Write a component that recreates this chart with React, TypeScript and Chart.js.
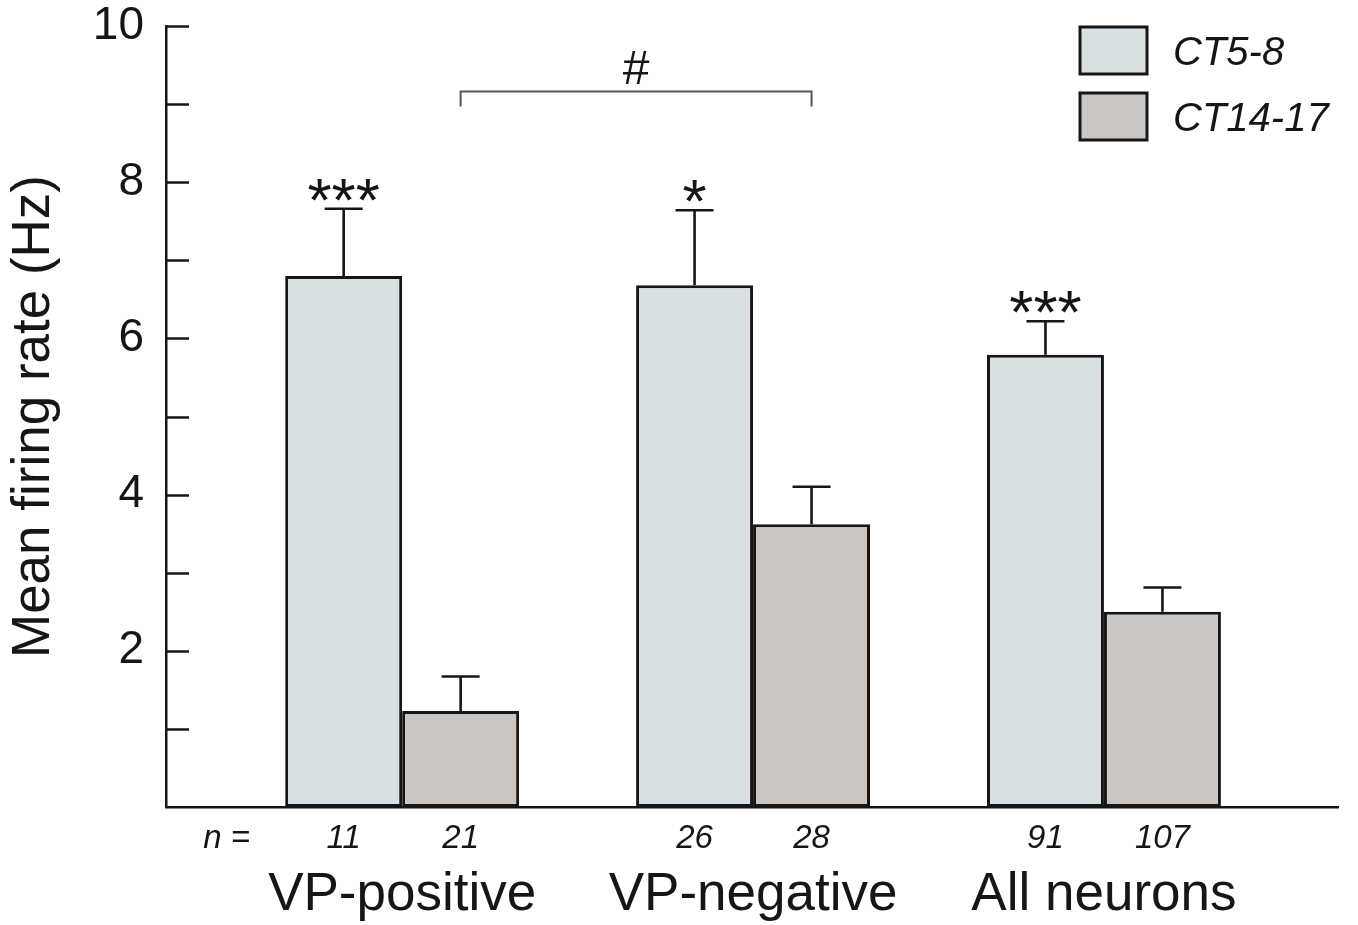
import React, { useEffect, useRef } from 'react';
import { Chart, registerables } from 'chart.js';

Chart.register(...registerables);

// ---------- data ----------
const GROUPS = ['VP-positive', 'VP-negative', 'All neurons'];
const GROUP_POS = [1, 2, 3];
const SERIES_LABELS = ['CT5-8', 'CT14-17'];
const CT5_8 = [6.8, 6.68, 5.79];
const CT14_17 = [1.23, 3.62, 2.5];
const SEM_CT5_8 = [0.86, 0.96, 0.43];
const SEM_CT14_17 = [0.44, 0.48, 0.31];
const N_CT5_8 = ['11', '26', '91'];
const N_CT14_17 = ['21', '28', '107'];
const N_PREFIX = 'n =';
const STARS = ['***', '*', '***'];
const Y_MIN = 0;
const Y_MAX = 10;
const Y_LABELLED = [2, 4, 6, 8, 10];
const Y_TITLE = 'Mean firing rate (Hz)';
const SIG_TEXT = '#';
const SIG_LEVEL = 9.17; // bracket height in y units
const SIG_DROP = 0.2;

// ---------- style ----------
const FONT = '"Liberation Sans", Arial, Helvetica, sans-serif';
const INK = '#161616';
const FILLS = ['#d9e0e4', '#cbc6c1'];
const CAT_PCT = 2 / 3;
const X_MIN = 0.327;
const X_MAX = 3.667;

const BAR_OFFSET = CAT_PCT / 4; // centre of each bar relative to group centre
const N_TICK_POS = [0.5];
const N_TICK_LABELS = [N_PREFIX];
GROUP_POS.forEach((g, i) => {
  N_TICK_POS.push(g - BAR_OFFSET, g + BAR_OFFSET);
  N_TICK_LABELS.push(N_CT5_8[i], N_CT14_17[i]);
});

const innerTicks = {
  id: 'innerTicks',
  afterDraw(chart: any) {
    const { ctx, chartArea } = chart;
    const y = chart.scales.y;
    ctx.save();
    ctx.strokeStyle = INK;
    ctx.lineWidth = 2.5;
    y.ticks.forEach((t: any) => {
      if (t.value <= Y_MIN) return;
      const py = Math.round(y.getPixelForValue(t.value)) + 0.5;
      ctx.beginPath();
      ctx.moveTo(chartArea.left, py);
      ctx.lineTo(chartArea.left + 23, py);
      ctx.stroke();
    });
    ctx.restore();
  },
};

const errorBars = {
  id: 'errorBars',
  afterDatasetsDraw(chart: any) {
    const { ctx } = chart;
    const y = chart.scales.y;
    const errs = [SEM_CT5_8, SEM_CT14_17];
    const vals = [CT5_8, CT14_17];
    ctx.save();
    ctx.strokeStyle = INK;
    ctx.lineWidth = 2.6;
    chart.data.datasets.forEach((_: any, d: number) => {
      const meta = chart.getDatasetMeta(d);
      meta.data.forEach((el: any, i: number) => {
        const top = y.getPixelForValue(vals[d][i] + errs[d][i]);
        ctx.beginPath();
        ctx.moveTo(el.x, el.y);
        ctx.lineTo(el.x, top);
        ctx.moveTo(el.x - 19, top);
        ctx.lineTo(el.x + 19, top);
        ctx.stroke();
        if (d === 0 && STARS[i]) {
          ctx.fillStyle = INK;
          ctx.font = `62px ${FONT}`;
          ctx.textAlign = 'center';
          ctx.textBaseline = 'alphabetic';
          ctx.fillText(STARS[i], el.x, top + 12);
        }
      });
    });
    // significance bracket between CT14-17 of group 1 and group 2
    const m = chart.getDatasetMeta(1);
    const x1 = m.data[0].x;
    const x2 = m.data[1].x;
    const yb = Math.round(y.getPixelForValue(SIG_LEVEL)) + 0.5;
    const yd = y.getPixelForValue(SIG_LEVEL - SIG_DROP);
    ctx.strokeStyle = '#555';
    ctx.lineWidth = 2;
    ctx.beginPath();
    ctx.moveTo(x1, yd);
    ctx.lineTo(x1, yb);
    ctx.lineTo(x2, yb);
    ctx.lineTo(x2, yd);
    ctx.stroke();
    ctx.fillStyle = INK;
    ctx.font = `48px ${FONT}`;
    ctx.textAlign = 'center';
    ctx.textBaseline = 'alphabetic';
    ctx.fillText(SIG_TEXT, (x1 + x2) / 2, yb - 8);
    ctx.restore();
  },
};

const boxLegend = {
  id: 'boxLegend',
  afterDraw(chart: any) {
    const { ctx, chartArea } = chart;
    ctx.save();
    chart.data.datasets.forEach((ds: any, i: number) => {
      const bx = chartArea.right - 258;
      const by = chartArea.top + 1 + i * 66;
      ctx.fillStyle = ds.backgroundColor;
      ctx.fillRect(bx, by, 67, 47);
      ctx.strokeStyle = INK;
      ctx.lineWidth = 3;
      ctx.strokeRect(bx, by, 67, 47);
      ctx.fillStyle = INK;
      ctx.font = `italic 40px ${FONT}`;
      ctx.textAlign = 'left';
      ctx.textBaseline = 'alphabetic';
      ctx.fillText(ds.label, bx + 93, by + 38);
    });
    ctx.restore();
  },
};

const zeroPad = (s: any) => {
  s.paddingTop = 0;
  s.paddingBottom = 0;
  s.paddingLeft = 0;
  s.paddingRight = 0;
};

export default function App() {
  const ref = useRef<HTMLCanvasElement | null>(null);
  useEffect(() => {
    document.body.style.margin = '0';
    const canvas = ref.current;
    if (!canvas) return;
    const mk = (vals: number[]) => GROUP_POS.map((x, i) => ({ x, y: vals[i] }));
    const common = {
      borderColor: INK,
      borderWidth: 3,
      borderSkipped: false,
      categoryPercentage: CAT_PCT,
      barPercentage: 1,
      xAxisID: 'xg',
      yAxisID: 'y',
    };
    const chart = new Chart(canvas, {
      type: 'bar',
      data: {
        datasets: [
          { label: SERIES_LABELS[0], data: mk(CT5_8) as any, backgroundColor: FILLS[0], ...common },
          { label: SERIES_LABELS[1], data: mk(CT14_17) as any, backgroundColor: FILLS[1], ...common },
        ],
      },
      options: {
        responsive: false,
        animation: false,
        layout: { padding: { top: 26, right: 20, left: 0, bottom: 0 } },
        plugins: { legend: { display: false }, tooltip: { enabled: false } },
        scales: {
          xn: {
            type: 'linear',
            position: 'bottom',
            weight: 0,
            offset: false,
            min: X_MIN,
            max: X_MAX,
            grid: { display: false, drawTicks: false, offset: false },
            border: { display: true, width: 2.5, color: INK },
            afterBuildTicks: (s: any) => {
              s.ticks = N_TICK_POS.map((v) => ({ value: v }));
            },
            afterFit: (s: any) => {
              s.height = 55;
              zeroPad(s);
            },
            ticks: {
              autoSkip: false,
              maxRotation: 0,
              padding: 12,
              color: INK,
              font: { family: FONT, size: 33, style: 'italic' },
              callback: (_v: any, i: number) => N_TICK_LABELS[i],
            },
          },
          xg: {
            type: 'linear',
            position: 'bottom',
            weight: 1,
            offset: false,
            min: X_MIN,
            max: X_MAX,
            grid: { display: false, drawTicks: false, offset: false },
            border: { display: false },
            afterBuildTicks: (s: any) => {
              s.ticks = GROUP_POS.map((v) => ({ value: v }));
            },
            afterFit: (s: any) => {
              s.height = 63;
              zeroPad(s);
            },
            ticks: {
              autoSkip: false,
              maxRotation: 0,
              padding: 2,
              color: INK,
              font: { family: FONT, size: 53 },
              callback: (_v: any, i: number) => GROUPS[i],
            },
          },
          y: {
            type: 'linear',
            min: Y_MIN,
            max: Y_MAX,
            grid: { display: false, drawTicks: false },
            border: { display: true, width: 2.5, color: INK },
            afterFit: (s: any) => {
              s.width = 166;
              zeroPad(s);
            },
            ticks: {
              stepSize: 1,
              padding: 22,
              color: INK,
              font: { family: FONT, size: 46, lineHeight: 1 },
              callback: (v: any) => (Y_LABELLED.includes(Number(v)) ? String(v) : ''),
            },
            title: {
              display: true,
              text: Y_TITLE,
              color: INK,
              font: { family: FONT, size: 53 },
              padding: { top: 3, bottom: 0 },
            },
          },
        },
      } as any,
      plugins: [innerTicks, errorBars, boxLegend],
    });
    return () => chart.destroy();
  }, []);
  return (
    <canvas
      ref={ref}
      width={1358}
      height={925}
      style={{ position: 'absolute', left: 0, top: 0, background: '#fff' }}
    />
  );
}
